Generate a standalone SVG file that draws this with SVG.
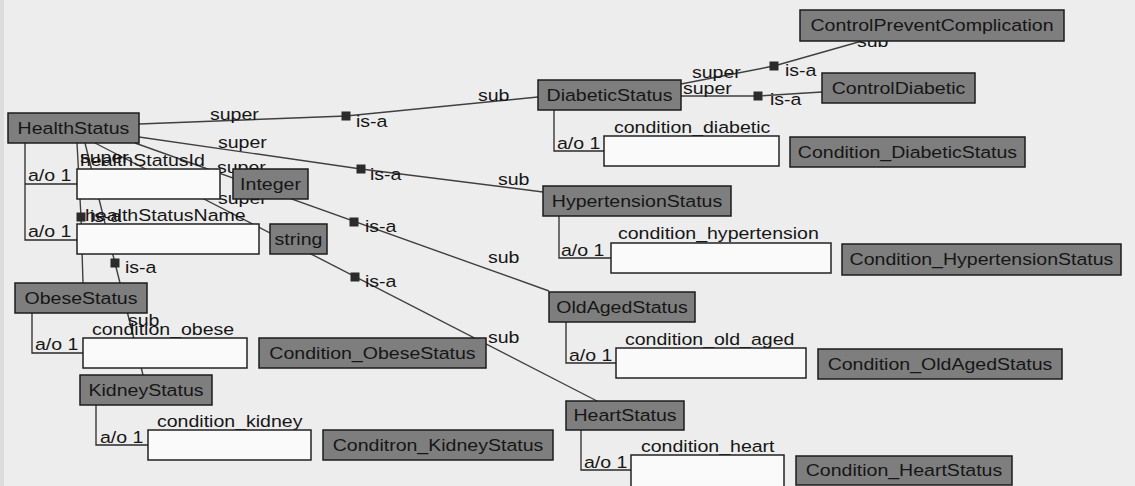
<svg xmlns="http://www.w3.org/2000/svg" width="1135" height="486" viewBox="0 0 1135 486">
  <style>
    text { font-family: "Liberation Sans", Arial, sans-serif; font-size: 17px; fill: #161616; }
    .n { text-anchor: middle; transform-box: fill-box; transform-origin: 50% 50%; transform: scaleX(1.15); }
    .l { transform-box: fill-box; transform-origin: 0% 50%; transform: scaleX(1.15); }
    .cls { fill: #7e7e7e; stroke: #1c1c1c; stroke-width: 1.5; }
    .slot { fill: #fafafa; stroke: #222; stroke-width: 1.5; }
    .br { fill: none; stroke: #2a2a2a; stroke-width: 1.3; }
    .edge { fill: none; stroke: #404040; stroke-width: 1.4; }
    .isa { fill: #2b2b2b; }
  </style>

  <rect width="1135" height="486" fill="#ededed"/>
  <rect width="4" height="486" fill="#dcdcdc"/>

  <!-- is-a connectors with their role labels -->
  <g id="connectors">
    <polyline class="edge" points="139,124 346,116 538,97"/>
    <polyline class="edge" points="139,137 361,169 543,192"/>
    <polyline class="edge" points="135,143 549,291"/>
    <polyline class="edge" points="95,143 597,401"/>
    <polyline class="edge" points="77,143 81,217 83,283"/>
    <polyline class="edge" points="85,143 115,263 143,375"/>
    <polyline class="edge" points="681,84 774,66 862,41"/>
    <polyline class="edge" points="681,96 758,96 822,92"/>

    <rect class="isa" x="341.5" y="111.5" width="9" height="9"/>
    <rect class="isa" x="356.5" y="164.5" width="9" height="9"/>
    <rect class="isa" x="349.5" y="217.5" width="9" height="9"/>
    <rect class="isa" x="350.5" y="272.5" width="9" height="9"/>
    <rect class="isa" x="76.5" y="212.5" width="9" height="9"/>
    <rect class="isa" x="110.5" y="258.5" width="9" height="9"/>
    <rect class="isa" x="769.5" y="61.5" width="9" height="9"/>
    <rect class="isa" x="753.5" y="91.5" width="9" height="9"/>

    <text class="l" x="210" y="120">super</text>
    <text class="l" x="218" y="148">super</text>
    <text class="l" x="217" y="173">super</text>
    <text class="l" x="218" y="204">super</text>
    <text class="l" x="80" y="163">super</text>
    <text class="l" x="692" y="78">super</text>
    <text class="l" x="683" y="94">super</text>

    <text class="l" x="356" y="127">is-a</text>
    <text class="l" x="370" y="180">is-a</text>
    <text class="l" x="365" y="232">is-a</text>
    <text class="l" x="365" y="287">is-a</text>
    <text class="l" x="125" y="273">is-a</text>
    <text class="l" x="90" y="222">is-a</text>
    <text class="l" x="785" y="76">is-a</text>
    <text class="l" x="770" y="105">is-a</text>

    <text class="l" x="478" y="101">sub</text>
    <text class="l" x="498" y="185">sub</text>
    <text class="l" x="488" y="263">sub</text>
    <text class="l" x="488" y="343">sub</text>
    <text class="l" x="128" y="326">sub</text>
    <text class="l" x="857" y="47">sub</text>
  </g>

  <!-- HealthStatus with its two slots -->
  <g id="HealthStatus">
    <polyline class="br" points="25,143 25,240 77,240"/>
    <line class="br" x1="25" y1="184" x2="77" y2="184"/>
    <rect class="cls" x="8" y="113" width="131" height="30"/>
    <text class="n" x="73.5" y="134">HealthStatus</text>
  </g>
  <g id="slot-healthStatusId">
    <text class="l" x="28" y="181">a/o 1</text>
    <text class="l" x="80" y="166">healthStatusId</text>
    <rect class="slot" x="77" y="169" width="143" height="30"/>
  </g>
  <g id="slot-healthStatusName">
    <text class="l" x="28" y="237">a/o 1</text>
    <text class="l" x="85" y="221">healthStatusName</text>
    <rect class="slot" x="77" y="224" width="182" height="30"/>
  </g>
  <g id="Integer">
    <rect class="cls" x="233" y="169" width="75" height="30"/>
    <text class="n" x="270.5" y="190">Integer</text>
  </g>
  <g id="string">
    <rect class="cls" x="270" y="224" width="57" height="30"/>
    <text class="n" x="298.5" y="245">string</text>
  </g>

  <!-- ObeseStatus -->
  <g id="ObeseStatus">
    <polyline class="br" points="32,313 32,353 83,353"/>
    <rect class="cls" x="15" y="283" width="132" height="30"/>
    <text class="n" x="81" y="304">ObeseStatus</text>
  </g>
  <g id="slot-condition_obese">
    <text class="l" x="35" y="350">a/o 1</text>
    <text class="l" x="92" y="335">condition_obese</text>
    <rect class="slot" x="83" y="338" width="164" height="30"/>
  </g>
  <g id="Condition_ObeseStatus">
    <rect class="cls" x="259" y="338" width="227" height="30"/>
    <text class="n" x="372.5" y="359">Condition_ObeseStatus</text>
  </g>

  <!-- KidneyStatus -->
  <g id="KidneyStatus">
    <polyline class="br" points="96,405 96,445 148,445"/>
    <rect class="cls" x="80" y="375" width="132" height="30"/>
    <text class="n" x="146" y="396">KidneyStatus</text>
  </g>
  <g id="slot-condition_kidney">
    <text class="l" x="100" y="443">a/o 1</text>
    <text class="l" x="157" y="427">condition_kidney</text>
    <rect class="slot" x="148" y="430" width="163" height="30"/>
  </g>
  <g id="Conditron_KidneyStatus">
    <rect class="cls" x="323" y="430" width="230" height="30"/>
    <text class="n" x="438" y="451">Conditron_KidneyStatus</text>
  </g>

  <!-- DiabeticStatus and its super classes -->
  <g id="DiabeticStatus">
    <polyline class="br" points="554,110 554,151 604,151"/>
    <rect class="cls" x="538" y="80" width="143" height="30"/>
    <text class="n" x="609.5" y="101">DiabeticStatus</text>
  </g>
  <g id="slot-condition_diabetic">
    <text class="l" x="557" y="149">a/o 1</text>
    <text class="l" x="614" y="133">condition_diabetic</text>
    <rect class="slot" x="604" y="136" width="175" height="30"/>
  </g>
  <g id="Condition_DiabeticStatus">
    <rect class="cls" x="790" y="137" width="235" height="30"/>
    <text class="n" x="907.5" y="158">Condition_DiabeticStatus</text>
  </g>
  <g id="ControlPreventComplication">
    <rect class="cls" x="800" y="10" width="264" height="31"/>
    <text class="n" x="932" y="31">ControlPreventComplication</text>
  </g>
  <g id="ControlDiabetic">
    <rect class="cls" x="822" y="73" width="153" height="30"/>
    <text class="n" x="898.5" y="94">ControlDiabetic</text>
  </g>

  <!-- HypertensionStatus -->
  <g id="HypertensionStatus">
    <polyline class="br" points="559,216 559,258 611,258"/>
    <rect class="cls" x="543" y="186" width="188" height="30"/>
    <text class="n" x="637" y="207">HypertensionStatus</text>
  </g>
  <g id="slot-condition_hypertension">
    <text class="l" x="561" y="256">a/o 1</text>
    <text class="l" x="618" y="239">condition_hypertension</text>
    <rect class="slot" x="611" y="243" width="220" height="30"/>
  </g>
  <g id="Condition_HypertensionStatus">
    <rect class="cls" x="842" y="244" width="279" height="31"/>
    <text class="n" x="981.5" y="265">Condition_HypertensionStatus</text>
  </g>

  <!-- OldAgedStatus -->
  <g id="OldAgedStatus">
    <polyline class="br" points="566,322 566,363 616,363"/>
    <rect class="cls" x="549" y="292" width="146" height="30"/>
    <text class="n" x="622" y="313">OldAgedStatus</text>
  </g>
  <g id="slot-condition_old_aged">
    <text class="l" x="569" y="361">a/o 1</text>
    <text class="l" x="625" y="345">condition_old_aged</text>
    <rect class="slot" x="616" y="348" width="190" height="30"/>
  </g>
  <g id="Condition_OldAgedStatus">
    <rect class="cls" x="818" y="349" width="244" height="30"/>
    <text class="n" x="940" y="370">Condition_OldAgedStatus</text>
  </g>

  <!-- HeartStatus -->
  <g id="HeartStatus">
    <polyline class="br" points="581,430 581,470 631,470"/>
    <rect class="cls" x="566" y="401" width="118" height="29"/>
    <text class="n" x="625" y="421">HeartStatus</text>
  </g>
  <g id="slot-condition_heart">
    <text class="l" x="584" y="468">a/o 1</text>
    <text class="l" x="641" y="452">condition_heart</text>
    <rect class="slot" x="631" y="455" width="153" height="34"/>
  </g>
  <g id="Condition_HeartStatus">
    <rect class="cls" x="796" y="456" width="216" height="29"/>
    <text class="n" x="904" y="476">Condition_HeartStatus</text>
  </g>
</svg>
